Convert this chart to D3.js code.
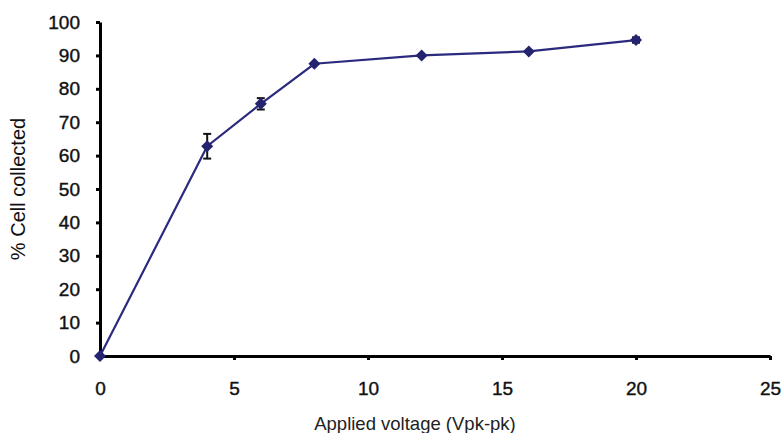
<!DOCTYPE html>
<html>
<head>
<meta charset="utf-8">
<script src="https://cdn.jsdelivr.net/npm/d3@7"></script>
<style>
  body { margin: 0; background: #fff; }
  svg { display: block; font-family: "Liberation Sans", Arial, sans-serif; }
</style>
</head>
<body>
<svg id="chart"></svg>
<script>
const voltage = [0, 4, 6, 8, 12, 16, 20];
const collected = [0, 62.8, 75.5, 87.5, 90, 91.2, 94.6];
const errors = [0, 3.7, 1.7, 0, 0, 0, 0.8];
const xTicks = [0, 5, 10, 15, 20, 25];
const yTicks = [0, 10, 20, 30, 40, 50, 60, 70, 80, 90, 100];

const width = 782;
const height = 433;
const margin = { top: 22, right: 12, bottom: 77, left: 100 };

const svg = d3.select('#chart')
    .attr('width', width)
    .attr('height', height);

const x = d3.scaleLinear()
    .domain([0, 25])
    .range([margin.left, width - margin.right]);

const y = d3.scaleLinear()
    .domain([0, 100])
    .range([height - margin.bottom, margin.top]);

const data = voltage.map((v, i) => ({ v: v, c: collected[i], e: errors[i] }));

// axes
const xAxis = svg.append('g')
    .attr('transform', `translate(0, ${y(0)})`)
    .call(d3.axisBottom(x).tickValues(xTicks).tickSize(4).tickPadding(22).tickSizeOuter(0));

const yAxis = svg.append('g')
    .attr('transform', `translate(${x(0)}, 0)`)
    .call(d3.axisLeft(y).tickValues(yTicks).tickSize(4).tickPadding(16).tickSizeOuter(0));

[xAxis, yAxis].forEach(g => {
    g.select('.domain').attr('stroke', '#000').attr('stroke-width', 3);
    g.selectAll('.tick line').attr('stroke', '#000').attr('stroke-width', 3);
    g.selectAll('.tick text')
        .attr('fill', '#111')
        .attr('stroke', '#111')
        .attr('stroke-width', 0.4)
        .style('font-size', '19px')
        .style('font-family', '"Liberation Sans", Arial, sans-serif');
});

// line
const line = d3.line()
    .x(d => x(d.v))
    .y(d => y(d.c));

svg.append('path')
    .datum(data)
    .attr('fill', 'none')
    .attr('stroke', '#2b2a7e')
    .attr('stroke-width', 2.2)
    .attr('d', line);

// error bars
const errs = svg.append('g')
    .selectAll('g')
    .data(data.filter(d => d.e > 0))
    .join('g')
    .attr('stroke', '#111')
    .attr('stroke-width', 2);

errs.append('line')
    .attr('x1', d => x(d.v)).attr('x2', d => x(d.v))
    .attr('y1', d => y(d.c + d.e)).attr('y2', d => y(d.c - d.e));

errs.append('line')
    .attr('x1', d => x(d.v) - 4).attr('x2', d => x(d.v) + 4)
    .attr('y1', d => y(d.c + d.e)).attr('y2', d => y(d.c + d.e));

errs.append('line')
    .attr('x1', d => x(d.v) - 4).attr('x2', d => x(d.v) + 4)
    .attr('y1', d => y(d.c - d.e)).attr('y2', d => y(d.c - d.e));

// markers (square turned 45 degrees)
svg.append('g')
    .selectAll('path')
    .data(data)
    .join('path')
    .attr('transform', d => `translate(${x(d.v)}, ${y(d.c)}) rotate(45)`)
    .attr('d', d3.symbol().type(d3.symbolSquare).size(72))
    .attr('fill', '#24236f');

// titles
svg.append('text')
    .attr('x', 415)
    .attr('y', 430)
    .attr('text-anchor', 'middle')
    .style('font-size', '18.5px')
    .attr('fill', '#222')
    .text('Applied voltage (Vpk-pk)');

svg.append('text')
    .attr('transform', 'translate(25, 189) rotate(-90)')
    .attr('text-anchor', 'middle')
    .style('font-size', '20px')
    .attr('fill', '#111')
    .text('% Cell collected');
</script>
</body>
</html>
